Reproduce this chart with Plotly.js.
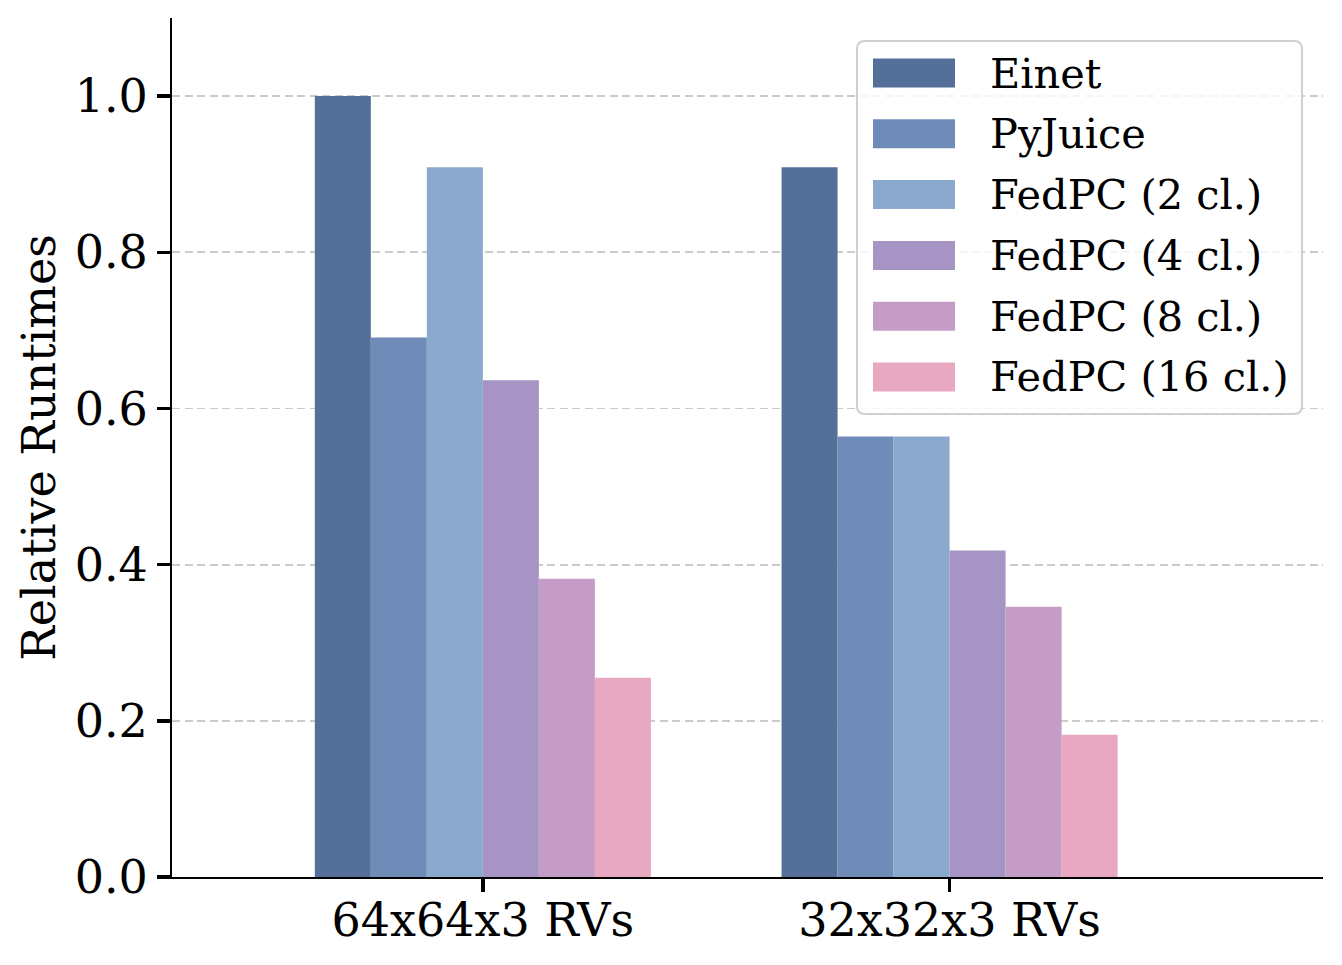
<!DOCTYPE html>
<html>
<head>
<meta charset="utf-8">
<script src="https://cdn.plot.ly/plotly-3.0.1.min.js"></script>
<style>html,body{margin:0;padding:0;background:#fff;}#chart{width:1342px;height:965px;}</style>
</head>
<body>
<div id="chart"></div>
<script>
const categories = ["64x64x3 RVs", "32x32x3 RVs"];
const seriesNames = ["Einet", "PyJuice", "FedPC (2 cl.)", "FedPC (4 cl.)", "FedPC (8 cl.)", "FedPC (16 cl.)"];
const einet   = [1.000, 0.909];
const pyjuice = [0.691, 0.564];
const fedpc2  = [0.909, 0.564];
const fedpc4  = [0.636, 0.418];
const fedpc8  = [0.382, 0.346];
const fedpc16 = [0.255, 0.182];
const seriesValues = [einet, pyjuice, fedpc2, fedpc4, fedpc8, fedpc16];
const colors = ["#547098", "#6f8cb8", "#8ba9cc", "#a695c4", "#c59cc6", "#e9a8c1"];
const yTicks = [0, 0.2, 0.4, 0.6, 0.8, 1.0];

const FONT = "DejaVu Serif";
const W = 1342, H = 965;
const M = {l: 172, r: 19, t: 18, b: 88};
const PW = W - M.l - M.r, PH = H - M.t - M.b;
const px2x = p => (p - M.l) / PW;
const px2y = p => (H - M.b - p) / PH;

const xPos = categories.map((c, i) => i);

const traces = seriesNames.map((name, k) => ({
  type: "bar",
  name: name,
  x: xPos,
  y: seriesValues[k],
  marker: {color: colors[k], line: {width: 0}},
  hoverinfo: "name+y",
  showlegend: false
}));

// Custom legend (matplotlib style, large swatches)
const shapes = [];
const annotations = [];
const lg = {left: 857, right: 1302, top: 41, bottom: 414, r: 8};
{
  const x0 = px2x(lg.left), x1 = px2x(lg.right), y0 = px2y(lg.bottom), y1 = px2y(lg.top);
  const rx = lg.r / PW, ry = lg.r / PH;
  const path = `M ${x0 + rx},${y1} L ${x1 - rx},${y1} Q ${x1},${y1} ${x1},${y1 - ry} L ${x1},${y0 + ry} Q ${x1},${y0} ${x1 - rx},${y0} L ${x0 + rx},${y0} Q ${x0},${y0} ${x0},${y0 + ry} L ${x0},${y1 - ry} Q ${x0},${y1} ${x0 + rx},${y1} Z`;
  shapes.push({type: "path", xref: "paper", yref: "paper", path: path,
    fillcolor: "rgba(255,255,255,0.8)", line: {color: "#d0d0d0", width: 2}, layer: "above"});
}
seriesNames.forEach((name, k) => {
  const cy = 73 + k * 60.8;
  shapes.push({type: "rect", xref: "paper", yref: "paper",
    x0: px2x(873), x1: px2x(955), y0: px2y(cy + 14.5), y1: px2y(cy - 14.5),
    fillcolor: colors[k], line: {width: 0}, layer: "above"});
  annotations.push({xref: "paper", yref: "paper", x: px2x(988), y: px2y(cy),
    xanchor: "left", yanchor: "middle", showarrow: false, text: name,
    font: {family: FONT, size: 41.5, color: "#000"}});
});

const layout = {
  width: W, height: H,
  margin: M,
  paper_bgcolor: "#fff", plot_bgcolor: "#fff",
  font: {family: FONT, size: 46, color: "#000"},
  barmode: "group", bargap: 0.28, bargroupgap: 0,
  showlegend: false,
  shapes: shapes,
  annotations: annotations,
  xaxis: {
    range: [-0.666, 1.8],
    tickmode: "array", tickvals: xPos, ticktext: categories,
    showline: true, linecolor: "#000", linewidth: 2,
    ticks: "outside", ticklen: 13, tickwidth: 3.5, tickcolor: "#000",
    ticklabelstandoff: -11,
    showgrid: false, zeroline: false,
    tickfont: {family: FONT, size: 46, color: "#000"}
  },
  yaxis: {
    range: [0, 1.1],
    tickmode: "array", tickvals: yTicks, ticktext: yTicks.map(v => v.toFixed(1)),
    showline: true, linecolor: "#000", linewidth: 2,
    ticks: "outside", ticklen: 13, tickwidth: 3.5, tickcolor: "#000",
    ticklabelstandoff: 0,
    showgrid: true, gridcolor: "#cbcbcb", gridwidth: 1.8, griddash: "8px,4.5px",
    zeroline: false,
    tickfont: {family: FONT, size: 46, color: "#000"},
    title: {text: "Relative Runtimes", font: {family: FONT, size: 46, color: "#000"}, standoff: 5}
  }
};

Plotly.newPlot("chart", traces, layout, {displayModeBar: false, staticPlot: true});
</script>
</body>
</html>
